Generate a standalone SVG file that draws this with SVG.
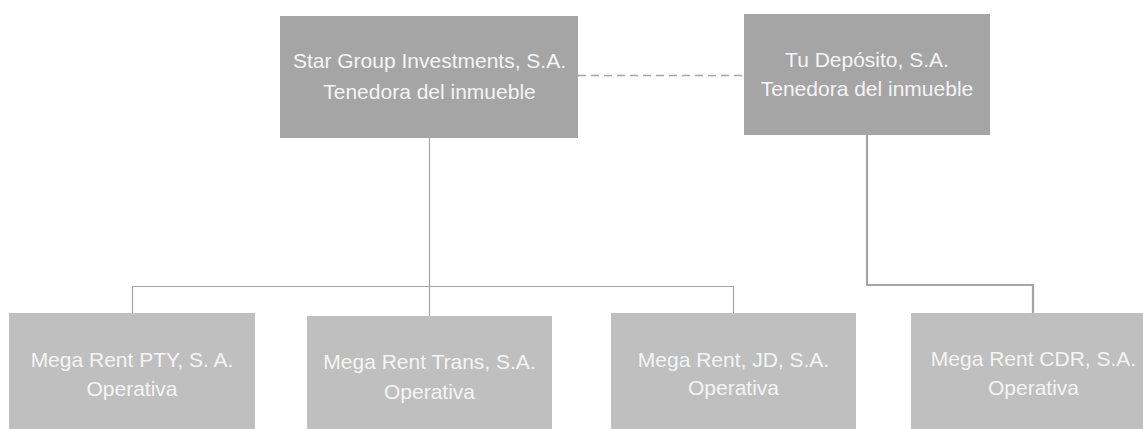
<svg xmlns="http://www.w3.org/2000/svg" width="1143" height="429" viewBox="0 0 1143 429">
<style>
.top{fill:#a5a5a5}
.bot{fill:#bfbfbf}
.t{font-family:"Liberation Sans",Arial,sans-serif;font-size:21px;fill:#f4f4f4;text-anchor:middle}
.ln{fill:none;stroke:#a5a5a5;stroke-width:1.2}
.lnb{fill:none;stroke:#a5a5a5;stroke-width:2.2}
.dash{fill:none;stroke:#a5a5a5;stroke-width:1.5;stroke-dasharray:8 5}
</style>
<rect width="1143" height="429" fill="#ffffff"/>
<g id="connectors">
<path class="ln" d="M429.5 138 V286.5 M132.5 313 V286.5 H733.5 V313 M429.5 286.5 V316"/>
<path class="lnb" d="M867 135 V285 H1033 V313"/>
<path class="dash" d="M578 75.5 H744"/>
</g>
<g id="star-group">
<rect class="top" x="280" y="16" width="298" height="122"/>
<text class="t" x="429.5" y="68">Star Group Investments, S.A.</text>
<text class="t" x="429.5" y="99">Tenedora del inmueble</text>
</g>
<g id="tu-deposito">
<rect class="top" x="744" y="14" width="246" height="121"/>
<text class="t" x="867" y="67">Tu Depósito, S.A.</text>
<text class="t" x="867" y="96">Tenedora del inmueble</text>
</g>
<g id="mega-rent-pty">
<rect class="bot" x="9" y="313" width="246" height="116"/>
<text class="t" x="132" y="367">Mega Rent PTY, S. A.</text>
<text class="t" x="132" y="396">Operativa</text>
</g>
<g id="mega-rent-trans">
<rect class="bot" x="307" y="316" width="245" height="113"/>
<text class="t" x="429.5" y="369">Mega Rent Trans, S.A.</text>
<text class="t" x="429.5" y="399">Operativa</text>
</g>
<g id="mega-rent-jd">
<rect class="bot" x="611" y="313" width="245" height="116"/>
<text class="t" x="733.5" y="367">Mega Rent, JD, S.A.</text>
<text class="t" x="733.5" y="395">Operativa</text>
</g>
<g id="mega-rent-cdr">
<rect class="bot" x="911" y="313" width="245" height="116"/>
<text class="t" x="1033.5" y="366">Mega Rent CDR, S.A.</text>
<text class="t" x="1033.5" y="395">Operativa</text>
</g>
</svg>
